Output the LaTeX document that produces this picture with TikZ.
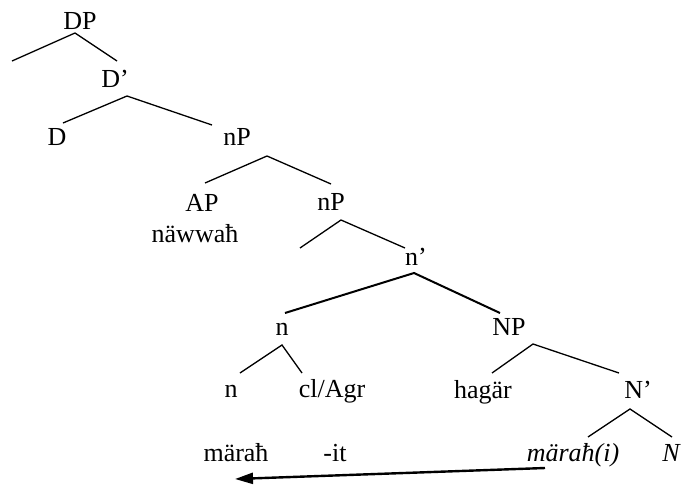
\documentclass[tikz,border=0pt]{standalone}
\usepackage{fontspec}
\setmainfont{Liberation Serif}
\usetikzlibrary{arrows.meta}
\begin{document}
\begin{tikzpicture}[x=1pt,y=-1pt,
  lbl/.style={anchor=base,inner sep=0pt,font=\fontsize{26}{29}\selectfont},
  branch/.style={line width=1.3pt},
  heavy/.style={line width=2pt},
  movement/.style={line width=2.4pt,-{Triangle[length=18pt,width=11pt]}}]
\useasboundingbox (0,0) rectangle (682,485);
% labels
\node[lbl] (DP)  at (80,29)  {DP};
\node[lbl] (Dbar) at (115,87) {D’};
\node[lbl] (D)   at (57,145) {D};
\node[lbl] (nP1) at (237,145) {nP};
\node[lbl] (AP)  at (202,211) {AP};
\node[lbl] (adj) at (195,242) {näwwaħ};
\node[lbl] (nP2) at (331,210) {nP};
\node[lbl] (nbar) at (416,265) {n’};
\node[lbl] (n1)  at (282,335) {n};
\node[lbl] (NP)  at (509,335) {NP};
\node[lbl] (n2)  at (231,397) {n};
\node[lbl] (cl)  at (332,397) {cl/Agr};
\node[lbl] (hag) at (483,398) {hagär};
\node[lbl] (Nbar) at (638,398) {N’};
\node[lbl] (mar) at (236,461) {märaħ};
\node[lbl] (it)  at (335,461) {-it};
\node[lbl] (trace) at (573,461) {\itshape märaħ(i)};
\node[lbl] (N)   at (671,461) {\itshape N};
% branch points
\coordinate (DPa) at (75,33);   \coordinate (DPl) at (12,61);   \coordinate (DPr) at (117,61);
\coordinate (Dba) at (127,96);  \coordinate (Dbl) at (63,123);  \coordinate (Dbr) at (212,125);
\coordinate (nPa) at (267,156); \coordinate (nPl) at (205,183); \coordinate (nPr) at (331,184);
\coordinate (nQa) at (341,220); \coordinate (nQl) at (300,248); \coordinate (nQr) at (405,248);
\coordinate (nba) at (414,273); \coordinate (nbl) at (285,313); \coordinate (nbr) at (500,313);
\coordinate (n1a) at (282,345); \coordinate (n1l) at (240,373); \coordinate (n1r) at (302,373);
\coordinate (NPa) at (533,344); \coordinate (NPl) at (492,373); \coordinate (NPr) at (619,373);
\coordinate (Nba) at (630,409); \coordinate (Nbl) at (588,437); \coordinate (Nbr) at (672,437);
\coordinate (mvS) at (545,468); \coordinate (mvE) at (235,479);
% branches
\draw[branch] (DPl) -- (DPa) -- (DPr);
\draw[branch] (Dbl) -- (Dba) -- (Dbr);
\draw[branch] (nPl) -- (nPa) -- (nPr);
\draw[branch] (nQl) -- (nQa) -- (nQr);
\draw[heavy]  (nbl) -- (nba) -- (nbr);
\draw[branch] (n1l) -- (n1a) -- (n1r);
\draw[branch] (NPl) -- (NPa) -- (NPr);
\draw[branch] (Nbl) -- (Nba) -- (Nbr);
% head movement
\draw[movement] (mvS) -- (mvE);
\end{tikzpicture}
\end{document}
